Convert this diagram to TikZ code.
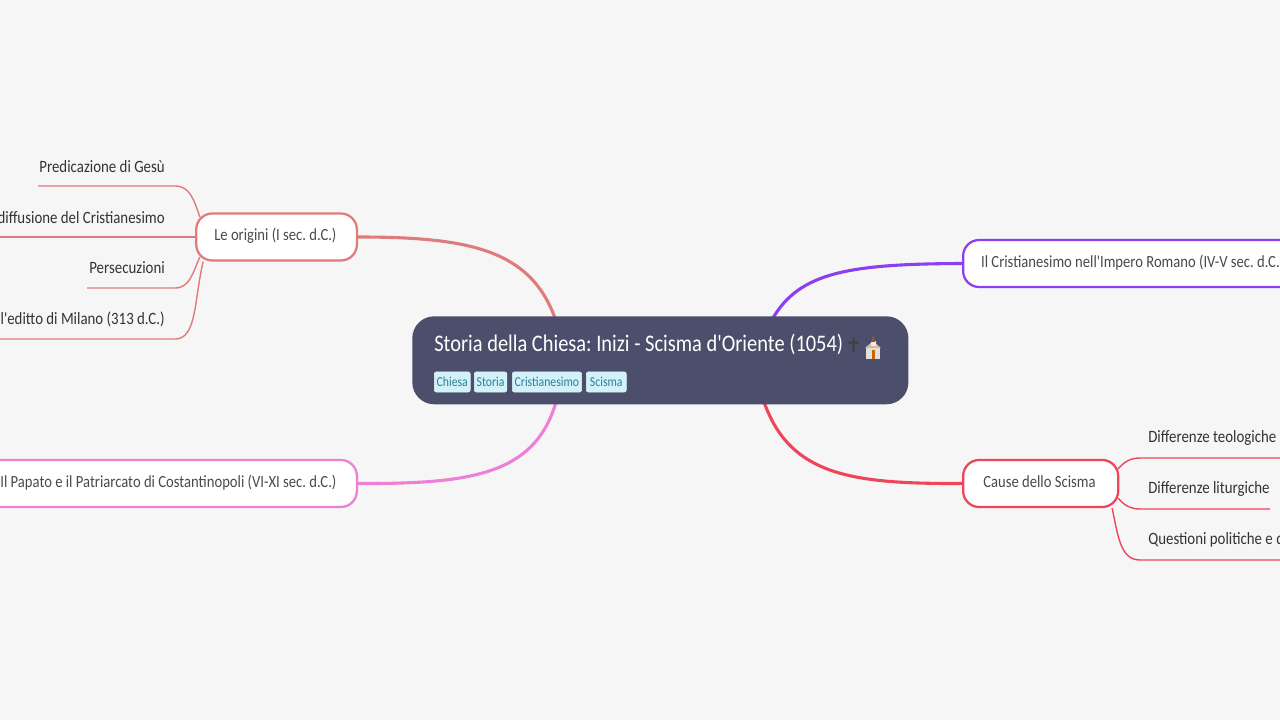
\documentclass[tikz,border=0pt]{standalone}
\usepackage{fontspec}
\setmainfont{Carlito}[FakeStretch=.86,Ligatures=TeXOff]
\usetikzlibrary{positioning}

\definecolor{pagebg}{HTML}{F6F6F6}
\definecolor{rootfill}{HTML}{4C4F6B}
\definecolor{tagfill}{HTML}{D2F1F8}
\definecolor{tagtext}{HTML}{2F7F93}
\definecolor{boxtext}{HTML}{4A4A4A}
\definecolor{leaftext}{HTML}{333333}
\definecolor{salmon}{HTML}{E07B7B}
\definecolor{violet}{HTML}{8A3FF0}
\definecolor{rosa}{HTML}{EE7FD6}
\definecolor{scarlet}{HTML}{EE4559}

\begin{document}
\frenchspacing
\begin{tikzpicture}[
    x=0.025cm,
    y=-0.025cm,
    branch/.style={line width=2.2pt},
    twig/.style={line width=1pt},
    topic/.style={draw, fill=white, line width=1.6pt, rounded corners=.4cm, minimum height=1.175cm, inner xsep=.45cm, inner ysep=0pt, text height=.3cm, text depth=.12cm, font=\fontsize{12.1}{14}\selectfont, text=boxtext, execute at end node=\hspace{.06cm}},
    leaf/.style={inner xsep=0pt, inner ysep=0pt, minimum height=.98cm, font=\fontsize{12.3}{14}\selectfont, text=leaftext},
    tagbox/.style={fill=tagfill, draw=tagfill!70!white, line width=.4pt, rounded corners=.05cm, inner xsep=.06cm, inner ysep=0pt, minimum height=.5cm, font=\fontsize{9.7}{11}\selectfont, text=tagtext}
]

    % === Page ===
    \path[use as bounding box, clip] (0, 0) rectangle (1280, 720);
    \fill[pagebg] (0, 0) rectangle (1280, 720);

    % === 1. Central topic ===
    \coordinate (joinNW) at (555, 318);
    \coordinate (joinNE) at (773, 318);
    \coordinate (joinSW) at (556, 402);
    \coordinate (joinSE) at (764, 402);

    % === 2. Main topics ===
    \node[topic, draw=salmon, anchor=east] (origini) at (358, 237) {Le origini (I sec. d.C.)};
    \node[topic, draw=violet, anchor=west] (impero) at (962, 263.5) {Il Cristianesimo nell'Impero Romano (IV-V sec. d.C.)};
    \node[topic, draw=rosa, anchor=east] (papato) at (358, 483.5) {Il Papato e il Patriarcato di Costantinopoli (VI-XI sec. d.C.)};
    \node[topic, draw=scarlet, anchor=west, minimum width=3.875cm] (cause) at (962, 483.5) {Cause dello Scisma};

    % Thick branches
    \draw[branch, salmon] (origini.east) .. controls (470, 237) and (530, 250) .. (joinNW);
    \draw[branch, violet] (impero.west) .. controls (850, 264) and (800, 272) .. (joinNE);
    \draw[branch, rosa] (papato.east) .. controls (470, 484) and (535, 475) .. (joinSW);
    \draw[branch, scarlet] (cause.west) .. controls (850, 484) and (790, 475) .. (joinSE);

    % Central box on top of the branch ends
    \node[fill=rootfill, rounded corners=.55cm, minimum width=12.4cm, minimum height=2.2cm, anchor=north west] (root) at (412, 316) {};
    \node[anchor=west, inner sep=0pt, text=white, font=\fontsize{16.9}{20}\selectfont] (title) at (434, 344) {Storia della Chiesa: Inizi - Scisma d'Oriente (1054)};
    \node[inner sep=0pt, text=black!75, font=\fontspec{DejaVu Sans}\fontsize{14}{16}\selectfont] (cross) at (853.5, 345) {✝};

    % Church
    \fill[white!88!black] (866, 347) rectangle (880, 359);
    \fill[brown!55!white] (865, 348) -- (873, 341) -- (881, 348) -- cycle;
    \fill[white!92!black] (870.5, 341) rectangle (875.5, 346);
    \fill[brown!70!black] (873, 334) -- (875, 342) -- (871, 342) -- cycle;
    \fill[orange!80!black] (871.5, 350) rectangle (874.5, 359);

    % Tags
    \node[tagbox, anchor=west] (chiesa) at (434, 382) {Chiesa};
    \node[tagbox, anchor=west] (storia) at (474, 382) {Storia};
    \node[tagbox, anchor=west] (cristianesimo) at (512, 382) {Cristianesimo};
    \node[tagbox, anchor=west, minimum width=1cm] (scisma) at (586, 382) {Scisma};

    % === 3. Le origini ===
    \node[leaf, anchor=south east] (gesu) at (165, 186) {Predicazione di Gesù};
    \node[leaf, anchor=south east] (diffusione) at (165, 237) {diffusione del Cristianesimo};
    \node[leaf, anchor=south east] (persecuzioni) at (165, 288) {Persecuzioni};
    \node[leaf, anchor=south east] (editto) at (165, 339) {e l'editto di Milano (313 d.C.)};

    \draw[twig, salmon] (38, 186) -- (gesu.south east) -- (175, 186) .. controls (190, 186) and (194, 200) .. ([xshift=.117cm, yshift=-.117cm]origini.north west);
    \draw[twig, salmon] (origini.west) -- (diffusione.south east) -- (-10, 237);
    \draw[twig, salmon] (87, 288) -- (persecuzioni.south east) -- (175, 288) .. controls (190, 288) and (193, 272) .. ([xshift=.117cm, yshift=.117cm]origini.south west);
    \draw[twig, salmon] (-10, 339) -- (editto.south east) -- (175, 339) .. controls (197, 339) and (194, 300) .. ([xshift=.2cm]origini.south west);

    % === 4. Cause dello Scisma ===
    \node[leaf, anchor=south west] (teologiche) at (1148, 458) {Differenze teologiche (};
    \node[leaf, anchor=south west] (liturgiche) at (1148, 509) {Differenze liturgiche};
    \node[leaf, anchor=south west] (politiche) at (1148, 560) {Questioni politiche e d};

    \draw[twig, scarlet] ([xshift=-.03cm, yshift=-.25cm]cause.north east) .. controls (1124, 462) and (1130, 458) .. (1140, 458) -- (teologiche.south west) -- (1290, 458);
    \draw[twig, scarlet] ([xshift=-.03cm, yshift=.25cm]cause.south east) .. controls (1124, 505) and (1130, 509) .. (1140, 509) -- (liturgiche.south west) -- (1270, 509);
    \draw[twig, scarlet] ([xshift=-.18cm]cause.south east) .. controls (1118, 535) and (1120, 560) .. (1140, 560) -- (politiche.south west) -- (1290, 560);

\end{tikzpicture}
\end{document}
